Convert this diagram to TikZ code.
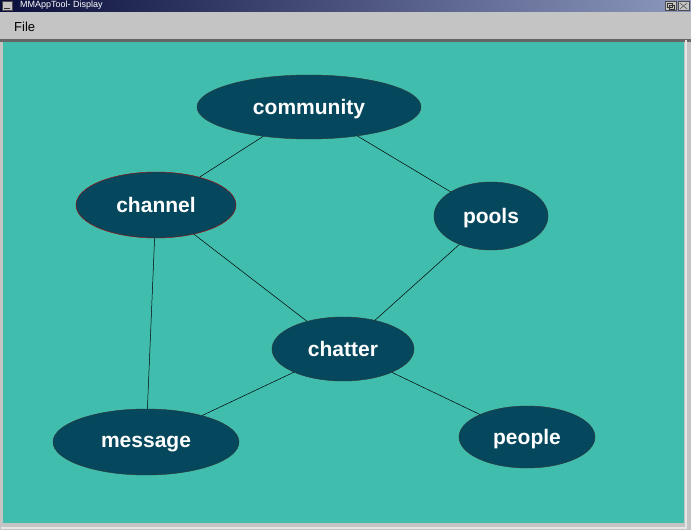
\documentclass[tikz,border=0pt]{standalone}
\usepackage{fontspec}
\setmainfont{Liberation Sans}
\usetikzlibrary{shapes.geometric}
\definecolor{canvas}{RGB}{64,189,173}
\definecolor{topic}{RGB}{5,72,94}
\definecolor{winbar}{RGB}{196,196,196}
\definecolor{titledark}{RGB}{10,14,60}
\definecolor{titlelight}{RGB}{140,152,190}
\tikzstyle{topic} = [ellipse,draw=black!80,fill=topic,text=white,inner sep=0pt,text depth=0pt,font=\fontsize{21}{24}\selectfont\bfseries]
\tikzstyle{link} = [black,line width=0.5pt]

\begin{document}
\begin{tikzpicture}[x=1pt,y=-1pt]
\useasboundingbox (0,0) rectangle (691,530);
% window frame
\fill[winbar] (0,0) rectangle (691,530);
\shade[left color=titledark,right color=titlelight] (0,0) rectangle (691,11);
\draw[black!70,fill=winbar] (2,1) rectangle (12,10);
\draw[black!80] (4,8) -- (10,8);
\draw[black!70,fill=winbar] (665,1) rectangle (676,10);
\draw[black!70,fill=winbar] (678,1) rectangle (689,10);
\draw[black!80] (680,3) -- (687,9) (687,3) -- (680,9);
\draw[black!80] (667,3) rectangle (672,7) (669,5) rectangle (674,9);
\node[anchor=west,text=white,inner sep=0pt,font=\fontsize{9}{10}\selectfont] (title) at (20,5.5) {MMAppTool- Display};
\node[anchor=west,inner sep=0pt,font=\fontsize{13}{15}\selectfont] (file) at (14,27) {File};
\fill[black!60] (0,39) rectangle (691,42);
\fill[canvas] (3,42) rectangle (684,523);
\draw[white!90!black,line width=1.5pt] (686,40) -- (686,528) -- (1,528);
% topics
\node[topic,minimum width=224pt,minimum height=64pt] (community) at (309,107) {community};
\node[topic,draw=red!70!black,minimum width=160pt,minimum height=66pt] (channel) at (156,205) {channel};
\node[topic,minimum width=114pt,minimum height=68pt] (pools) at (491,216) {pools};
\node[topic,minimum width=142pt,minimum height=64pt] (chatter) at (343,349) {chatter};
\node[topic,minimum width=186pt,minimum height=66pt] (message) at (146,442) {message};
\node[topic,minimum width=136pt,minimum height=62pt] (people) at (527,437) {people};
% links
\draw[link] (community) -- (channel);
\draw[link] (community) -- (pools);
\draw[link] (channel) -- (chatter);
\draw[link] (pools) -- (chatter);
\draw[link] (channel) -- (message);
\draw[link] (chatter) -- (message);
\draw[link] (chatter) -- (people);
\end{tikzpicture}
\end{document}
